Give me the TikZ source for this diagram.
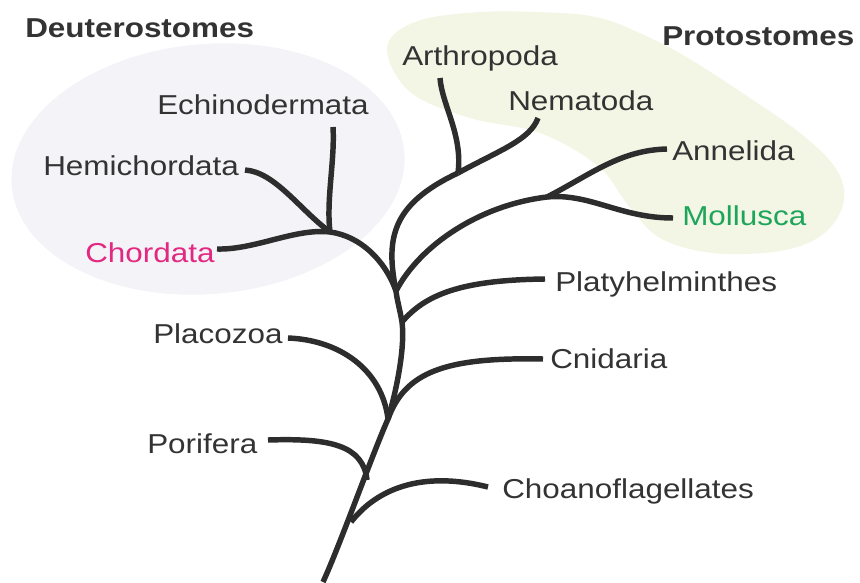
\documentclass[tikz,border=0pt]{standalone}
\usepackage{fontspec}
\setmainfont[FakeStretch=1.15]{Liberation Sans}
\definecolor{ink}{RGB}{51,51,51}
\definecolor{branchcol}{RGB}{45,45,45}
\definecolor{deutfill}{RGB}{243,243,248}
\definecolor{protofill}{RGB}{243,246,229}
\definecolor{chordcol}{RGB}{226,40,128}
\definecolor{mollcol}{RGB}{30,165,90}
\begin{document}
\begin{tikzpicture}[x=0.75pt,y=-0.75pt,
  taxon/.style={anchor=base west, inner sep=0pt, text=ink, font=\fontsize{20.5}{24}\selectfont},
  grouptitle/.style={taxon, font=\fontsize{20.5}{24}\selectfont\bfseries},
  branchline/.style={draw=branchcol, line width=4.1pt, line cap=butt}]
\useasboundingbox (0,0) rectangle (860,582);

% group backgrounds
\fill[deutfill, rotate around={5:(208,169)}] (208,169) ellipse [x radius=197, y radius=125];
\fill[protofill] plot[smooth cycle, tension=0.6] coordinates {
  (387,48) (415,22) (480,12) (560,13) (600,18) (633,30) (683,55) (750,98) (805,137)
  (838,172) (843,205) (822,235) (780,251) (713,253) (660,238) (628,205) (598,166)
  (540,133) (470,118) (410,92)};

% junctions and tips
\coordinate (root) at (323,582);
\coordinate (choJ) at (351,522);
\coordinate (porJ) at (367,480);
\coordinate (cniJ) at (388,419);
\coordinate (plaJ) at (402,322);
\coordinate (bilJ) at (396,291);
\coordinate (deuJ) at (330,232);
\coordinate (ecdJ) at (458,173);
\coordinate (lopJ) at (547,197);
\coordinate (choE) at (488,487);
\coordinate (porE) at (268,440);
\coordinate (cniE) at (543,359);
\coordinate (plcE) at (288,338);
\coordinate (platyE) at (545,279);
\coordinate (chordE) at (217,249);
\coordinate (hemiE) at (245,170);
\coordinate (echiE) at (333,127);
\coordinate (arthE) at (440,78);
\coordinate (nemaE) at (538,118);
\coordinate (anneE) at (667,149);
\coordinate (mollE) at (673,218);

% trunk
\draw[branchline] (root) .. controls (340,545) and (372,455) .. (cniJ)
  .. controls (398,385) and (405,345) .. (plaJ)
  .. controls (400,310) and (397,300) .. (bilJ);
% branches
\draw[branchline] (choJ) .. controls (376,490) and (420,470) .. (choE);
\draw[branchline] (porJ) .. controls (363,445) and (330,438) .. (porE);
\draw[branchline] (cniJ) .. controls (405,372) and (445,357) .. (cniE);
\draw[branchline] (cniJ) .. controls (382,370) and (340,340) .. (plcE);
\draw[branchline] (plaJ) .. controls (425,295) and (460,280) .. (platyE);
\draw[branchline] (bilJ) .. controls (385,260) and (360,236) .. (deuJ);
\draw[branchline] (deuJ) .. controls (295,228) and (255,250) .. (chordE);
\draw[branchline] (deuJ) .. controls (300,210) and (275,172) .. (hemiE);
\draw[branchline] (deuJ) .. controls (326,200) and (335,160) .. (echiE);
\draw[branchline] (bilJ) .. controls (386,240) and (390,205) .. (ecdJ);
\draw[branchline] (ecdJ) .. controls (463,135) and (442,105) .. (arthE);
\draw[branchline] (ecdJ) .. controls (500,150) and (530,140) .. (nemaE);
\draw[branchline] (bilJ) .. controls (420,245) and (480,205) .. (lopJ);
\draw[branchline] (lopJ) .. controls (590,175) and (620,150) .. (anneE);
\draw[branchline] (lopJ) .. controls (590,193) and (620,218) .. (mollE);

% labels
\node[grouptitle] (deut) at (25,37) {Deuterostomes};
\node[grouptitle] (prot) at (662,45) {Protostomes};
\node[taxon] (echi) at (157,114) {Echinodermata};
\node[taxon] (hemi) at (43,175) {Hemichordata};
\node[taxon, text=chordcol] (chord) at (85,262) {Chordata};
\node[taxon] (arth) at (402,65) {Arthropoda};
\node[taxon] (nema) at (508,110) {Nematoda};
\node[taxon] (anne) at (672,160) {Annelida};
\node[taxon, text=mollcol] (moll) at (682,225) {Mollusca};
\node[taxon] (platy) at (555,291) {Platyhelminthes};
\node[taxon] (cnid) at (550,368) {Cnidaria};
\node[taxon] (choa) at (502,498) {Choanoflagellates};
\node[taxon] (plac) at (153,343) {Placozoa};
\node[taxon] (pori) at (147,453) {Porifera};
\end{tikzpicture}
\end{document}
